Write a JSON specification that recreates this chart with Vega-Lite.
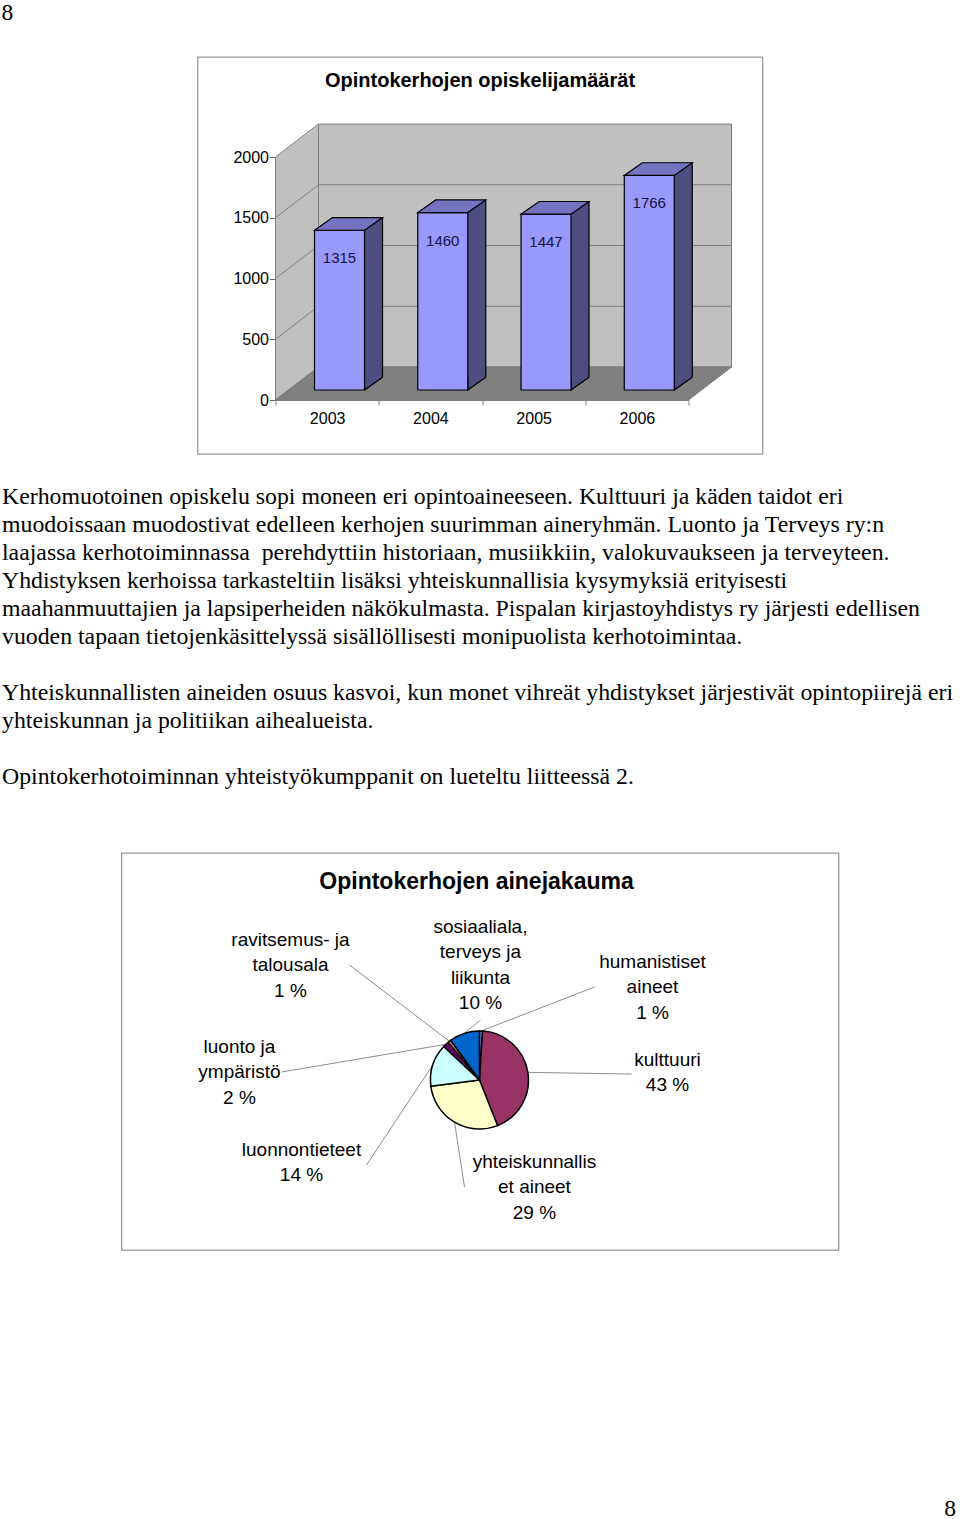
{
  "$schema": "https://vega.github.io/schema/vega-lite/v6.json",
  "padding": 0,
  "background": "white",
  "spacing": 0,
  "center": true,
  "bounds": "flush",
  "datasets": {
    "sivunumero": [{"sivu": "8"}],
    "opiskelijat": [
      {"vuosi": "2003", "maara": 1315},
      {"vuosi": "2004", "maara": 1460},
      {"vuosi": "2005", "maara": 1447},
      {"vuosi": "2006", "maara": 1766}
    ],
    "ruudukko": [{"v": 500}, {"v": 1000}, {"v": 1500}],
    "teksti": [
      {"rivi": 1, "teksti": "Kerhomuotoinen opiskelu sopi moneen eri opintoaineeseen. Kulttuuri ja käden taidot eri"},
      {"rivi": 2, "teksti": "muodoissaan muodostivat edelleen kerhojen suurimman aineryhmän. Luonto ja Terveys ry:n"},
      {"rivi": 3, "teksti": "laajassa kerhotoiminnassa\u00a0 perehdyttiin historiaan, musiikkiin, valokuvaukseen ja terveyteen."},
      {"rivi": 4, "teksti": "Yhdistyksen kerhoissa tarkasteltiin lisäksi yhteiskunnallisia kysymyksiä erityisesti"},
      {"rivi": 5, "teksti": "maahanmuuttajien ja lapsiperheiden näkökulmasta. Pispalan kirjastoyhdistys ry järjesti edellisen"},
      {"rivi": 6, "teksti": "vuoden tapaan tietojenkäsittelyssä sisällöllisesti monipuolista kerhotoimintaa."},
      {"rivi": 8, "teksti": "Yhteiskunnallisten aineiden osuus kasvoi, kun monet vihreät yhdistykset järjestivät opintopiirejä eri"},
      {"rivi": 9, "teksti": "yhteiskunnan ja politiikan aihealueista."},
      {"rivi": 11, "teksti": "Opintokerhotoiminnan yhteistyökumppanit on lueteltu liitteessä 2."}
    ],
    "aineet": [
      {"aine": "humanistiset aineet", "osuus": 1, "jarj": 1, "rivit": ["humanistiset", "aineet", "1 %"], "tx": 3.531, "ty": 2.408, "vx": 2.347, "vy": 1.898, "ex": 0.031, "ey": 0.9995},
      {"aine": "kulttuuri", "osuus": 43, "jarj": 2, "rivit": ["kulttuuri", "43 %"], "tx": 3.837, "ty": 0.408, "vx": 3.102, "vy": 0.122, "ex": 0.988, "ey": 0.156},
      {"aine": "yhteiskunnalliset aineet", "osuus": 29, "jarj": 3, "rivit": ["yhteiskunnallis", "et aineet", "29 %"], "tx": 1.122, "ty": -1.673, "vx": -0.306, "vy": -2.184, "ex": -0.509, "ey": -0.861},
      {"aine": "luonnontieteet", "osuus": 14, "jarj": 4, "rivit": ["luonnontieteet", "14 %"], "tx": -3.633, "ty": -1.429, "vx": -2.306, "vy": -1.735, "ex": -0.951, "ey": 0.309},
      {"aine": "luonto ja ympäristö", "osuus": 2, "jarj": 5, "rivit": ["luonto ja", "ympäristö", "2 %"], "tx": -4.898, "ty": 0.673, "vx": -4.041, "vy": 0.163, "ex": -0.6845, "ey": 0.729},
      {"aine": "ravitsemus- ja talousala", "osuus": 1, "jarj": 6, "rivit": ["ravitsemus- ja", "talousala", "1 %"], "tx": -3.857, "ty": 2.857, "vx": -2.653, "vy": 2.347, "ex": -0.613, "ey": 0.79},
      {"aine": "sosiaaliala, terveys ja liikunta", "osuus": 10, "jarj": 7, "rivit": ["sosiaaliala,", "terveys ja", "liikunta", "10 %"], "tx": 0.02, "ty": 3.122, "vx": 0.02, "vy": 1.224, "ex": -0.309, "ey": 0.951}
    ]
  },
  "vconcat": [
    {
      "width": 960,
      "height": 57,
      "data": {"name": "sivunumero"},
      "mark": {"type": "text", "align": "left", "baseline": "top", "font": "Liberation Serif", "fontSize": 23.5, "dx": 1.5, "dy": 1, "color": "black"},
      "encoding": {
        "text": {"field": "sivu"},
        "x": {"datum": 0, "type": "quantitative", "scale": {"domain": [0, 1]}, "axis": null},
        "y": {"datum": 1, "type": "quantitative", "scale": {"domain": [0, 1]}, "axis": null}
      }
    },
    {
      "width": 565,
      "height": 397,
      "view": {"stroke": "#9a9a9a", "strokeWidth": 1.3},
      "title": {"text": "Opintokerhojen opiskelijamäärät", "font": "Liberation Sans", "fontSize": 20, "fontWeight": "bold", "anchor": "middle", "frame": "group", "offset": -34, "color": "black"},
      "layer": [
        {
          "data": {"values": [{}]},
          "mark": {"type": "point", "shape": "M0,0L0,-243L43,-276L43,-33ZM43,-33L43,-276L456,-276L456,-33Z", "size": 4, "filled": true, "fill": "#c0c0c0", "stroke": "#808080", "strokeWidth": 1, "opacity": 1, "xOffset": -51.625},
          "encoding": {
            "x": {"datum": "2003", "type": "ordinal",
              "scale": {"type": "band", "domain": ["2003", "2004", "2005", "2006"], "range": [78, 491], "paddingInner": 0, "paddingOuter": 0},
              "axis": {"orient": "bottom", "offset": -54, "tickBand": "extent", "tickSize": 5, "labelPadding": 5, "labelAngle": 0, "domainColor": "#808080", "tickColor": "#808080", "labelFont": "Liberation Sans", "labelFontSize": 16, "labelColor": "black", "title": null, "grid": false}},
            "y": {"datum": 0, "type": "quantitative",
              "scale": {"domain": [0, 2000], "range": [343, 100], "nice": false},
              "axis": {"orient": "left", "offset": -78, "values": [0, 500, 1000, 1500, 2000], "format": "d", "tickSize": 6, "labelPadding": 1, "domainColor": "#808080", "tickColor": "#666666", "labelFont": "Liberation Sans", "labelFontSize": 16, "labelColor": "black", "title": null, "grid": false}}
          }
        },
        {
          "data": {"values": [{}]},
          "mark": {"type": "point", "shape": "M0,0L413,0L456,-33L43,-33Z", "size": 4, "filled": true, "fill": "#808080", "stroke": "#7a7a7a", "strokeWidth": 1, "opacity": 1, "xOffset": -51.625},
          "encoding": {
            "x": {"datum": "2003", "type": "ordinal"},
            "y": {"datum": 0, "type": "quantitative"}
          }
        },
        {
          "data": {"name": "ruudukko"},
          "mark": {"type": "point", "shape": "M0,0L43,-33L456,-33", "size": 4, "filled": false, "fill": null, "stroke": "#808080", "strokeWidth": 1, "opacity": 1, "xOffset": -51.625},
          "encoding": {
            "x": {"datum": "2003", "type": "ordinal"},
            "y": {"field": "v", "type": "quantitative"}
          }
        },
        {
          "data": {"name": "opiskelijat"},
          "layer": [
            {
              "mark": {"type": "bar", "width": 18, "xOffset": 46.4, "yOffset": -22.7, "y2Offset": -22.7, "fill": "#4d4d80", "strokeWidth": 0},
              "encoding": {
                "x": {"field": "vuosi", "type": "ordinal"},
                "y": {"field": "maara", "type": "quantitative"},
                "y2": {"datum": 0}
              }
            },
            {
              "mark": {"type": "point", "shape": "M0,-12.7L0,0L18,-12.7", "size": 4, "filled": true, "fill": "#4d4d80", "stroke": "black", "strokeWidth": 1.2, "opacity": 1, "xOffset": 37.4, "yOffset": -10},
              "encoding": {
                "x": {"field": "vuosi", "type": "ordinal"},
                "y": {"datum": 0, "type": "quantitative"}
              }
            },
            {
              "mark": {"type": "rule", "color": "black", "strokeWidth": 1.2, "xOffset": 55.4, "yOffset": -22.7, "y2Offset": -22.7},
              "encoding": {
                "x": {"field": "vuosi", "type": "ordinal"},
                "y": {"field": "maara", "type": "quantitative"},
                "y2": {"datum": 0}
              }
            },
            {
              "mark": {"type": "bar", "width": 50, "xOffset": 12.4, "yOffset": -10, "y2Offset": -10, "fill": "#9999ff", "stroke": "black", "strokeWidth": 1.2},
              "encoding": {
                "x": {"field": "vuosi", "type": "ordinal"},
                "y": {"field": "maara", "type": "quantitative"},
                "y2": {"datum": 0}
              }
            },
            {
              "mark": {"type": "point", "shape": "M0,0L50,0L68,-12.7L18,-12.7Z", "size": 4, "filled": true, "fill": "#7373bf", "stroke": "black", "strokeWidth": 1.2, "opacity": 1, "xOffset": -12.6, "yOffset": -10},
              "encoding": {
                "x": {"field": "vuosi", "type": "ordinal"},
                "y": {"field": "maara", "type": "quantitative"}
              }
            },
            {
              "mark": {"type": "text", "font": "Liberation Sans", "fontSize": 15, "baseline": "middle", "align": "center", "dx": 12.4, "dy": 18, "color": "#13133f"},
              "encoding": {
                "x": {"field": "vuosi", "type": "ordinal"},
                "y": {"field": "maara", "type": "quantitative"},
                "text": {"field": "maara", "type": "quantitative", "format": "d"}
              }
            }
          ]
        }
      ]
    },
    {
      "width": 960,
      "height": 399,
      "data": {"name": "teksti"},
      "mark": {"type": "text", "align": "left", "baseline": "alphabetic", "font": "Liberation Serif", "fontSize": 23.8, "dx": 2, "color": "black"},
      "encoding": {
        "text": {"field": "teksti"},
        "x": {"datum": 0, "type": "quantitative", "scale": {"domain": [0, 1]}, "axis": null},
        "y": {"field": "rivi", "type": "quantitative", "scale": {"domain": [1, 11], "range": [50, 330], "nice": false, "zero": false}, "axis": null}
      }
    },
    {
      "width": 717,
      "height": 397,
      "view": {"stroke": "#9a9a9a", "strokeWidth": 1.3},
      "title": {"text": "Opintokerhojen ainejakauma", "font": "Liberation Sans", "fontSize": 23, "fontWeight": "bold", "anchor": "middle", "frame": "group", "offset": -41, "dx": -3.5, "color": "black"},
      "data": {"name": "aineet"},
      "layer": [
        {
          "mark": {"type": "rule", "color": "#8c8c8c", "strokeWidth": 1},
          "encoding": {
            "x": {"field": "vx", "type": "quantitative", "scale": {"domain": [-7.306, 7.327], "nice": false, "zero": false}, "axis": null},
            "y": {"field": "vy", "type": "quantitative", "scale": {"domain": [-3.469, 4.633], "nice": false, "zero": false}, "axis": null},
            "x2": {"field": "ex"},
            "y2": {"field": "ey"}
          }
        },
        {
          "mark": {"type": "arc", "outerRadius": 49, "stroke": "black", "strokeWidth": 1.5},
          "encoding": {
            "theta": {"field": "osuus", "type": "quantitative", "stack": true},
            "order": {"field": "jarj", "type": "quantitative"},
            "color": {"field": "aine", "type": "nominal",
              "scale": {"domain": ["humanistiset aineet", "kulttuuri", "yhteiskunnalliset aineet", "luonnontieteet", "luonto ja ympäristö", "ravitsemus- ja talousala", "sosiaaliala, terveys ja liikunta"],
                        "range": ["#9999ff", "#993366", "#ffffcc", "#ccffff", "#660066", "#ff8080", "#0066cc"]},
              "legend": null},
            "x": {"datum": 0, "type": "quantitative"},
            "y": {"datum": 0, "type": "quantitative"}
          }
        },
        {
          "mark": {"type": "text", "font": "Liberation Sans", "fontSize": 19, "lineHeight": 25.3, "align": "center", "baseline": "middle", "color": "black"},
          "encoding": {
            "text": {"field": "rivit"},
            "x": {"field": "tx", "type": "quantitative"},
            "y": {"field": "ty", "type": "quantitative"}
          }
        }
      ]
    },
    {
      "width": 960,
      "height": 269,
      "data": {"name": "sivunumero"},
      "mark": {"type": "text", "align": "right", "baseline": "alphabetic", "font": "Liberation Serif", "fontSize": 23.5, "dx": -4, "dy": -3, "color": "black"},
      "encoding": {
        "text": {"field": "sivu"},
        "x": {"datum": 1, "type": "quantitative", "scale": {"domain": [0, 1]}, "axis": null},
        "y": {"datum": 0, "type": "quantitative", "scale": {"domain": [0, 1]}, "axis": null}
      }
    }
  ],
  "config": {
    "view": {"stroke": null},
    "font": "Liberation Sans"
  }
}
